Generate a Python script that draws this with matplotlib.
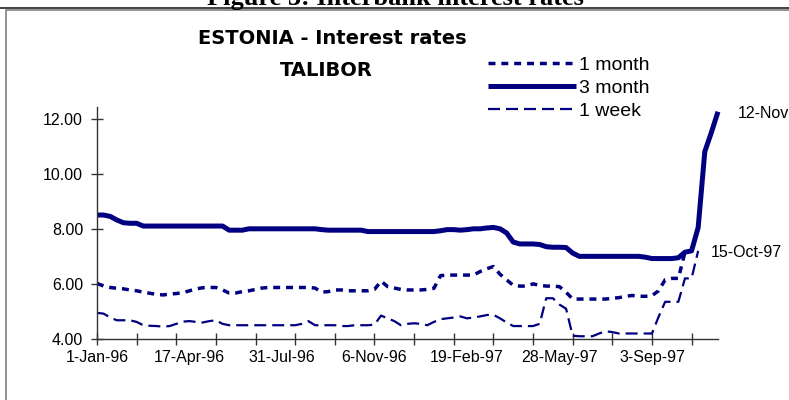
import matplotlib
matplotlib.use('Agg')
from matplotlib import pyplot as plt
from matplotlib.patches import Rectangle
from matplotlib.lines import Line2D

# weekly observations, category axis (index 0 = 1-Jan-96, 94 = 12-Nov-97)
three_month = [8.50, 8.50, 8.45, 8.32, 8.22, 8.20, 8.20, 8.10, 8.10, 8.10,
               8.10, 8.10, 8.10, 8.10, 8.10, 8.10, 8.10, 8.10, 8.10, 8.10,
               7.95, 7.95, 7.95, 8.00, 8.00, 8.00, 8.00, 8.00, 8.00, 8.00,
               8.00, 8.00, 8.00, 8.00, 7.97, 7.95, 7.95, 7.95, 7.95, 7.95,
               7.95, 7.90, 7.90, 7.90, 7.90, 7.90, 7.90, 7.90, 7.90, 7.90,
               7.90, 7.90, 7.93, 7.97, 7.97, 7.95, 7.97, 8.00, 8.00, 8.03,
               8.05, 8.00, 7.85, 7.52, 7.45, 7.45, 7.45, 7.43, 7.35, 7.33,
               7.33, 7.32, 7.12, 7.00, 7.00, 7.00, 7.00, 7.00, 7.00, 7.00,
               7.00, 7.00, 7.00, 6.97, 6.92, 6.92, 6.92, 6.92, 6.95, 7.15,
               7.20, 8.05, 10.80, 11.50, 12.25]

one_month = [6.02, 5.92, 5.87, 5.84, 5.82, 5.78, 5.75, 5.70, 5.66, 5.62,
             5.60, 5.63, 5.65, 5.68, 5.75, 5.82, 5.86, 5.87, 5.87, 5.78,
             5.67, 5.67, 5.72, 5.75, 5.80, 5.85, 5.87, 5.87, 5.87, 5.87,
             5.87, 5.87, 5.87, 5.85, 5.70, 5.72, 5.78, 5.78, 5.75, 5.75,
             5.75, 5.75, 5.80, 6.10, 5.90, 5.85, 5.80, 5.78, 5.78, 5.78,
             5.80, 5.84, 6.30, 6.32, 6.32, 6.32, 6.32, 6.32, 6.45, 6.55,
             6.63, 6.35, 6.15, 5.95, 5.92, 5.92, 6.00, 5.95, 5.92, 5.92,
             5.90, 5.70, 5.45, 5.45, 5.45, 5.45, 5.45, 5.45, 5.48, 5.50,
             5.55, 5.58, 5.55, 5.55, 5.57, 5.75, 6.15, 6.20, 6.20, 7.15,
             7.20]

one_week = [4.95, 4.92, 4.78, 4.68, 4.68, 4.68, 4.62, 4.50, 4.48, 4.47,
            4.45, 4.47, 4.55, 4.63, 4.65, 4.62, 4.60, 4.65, 4.68, 4.55,
            4.50, 4.50, 4.50, 4.50, 4.50, 4.50, 4.50, 4.50, 4.50, 4.50,
            4.50, 4.55, 4.65, 4.50, 4.50, 4.50, 4.50, 4.47, 4.47, 4.50,
            4.50, 4.50, 4.52, 4.85, 4.75, 4.65, 4.50, 4.55, 4.57, 4.55,
            4.50, 4.62, 4.72, 4.75, 4.78, 4.82, 4.75, 4.78, 4.82, 4.87,
            4.88, 4.75, 4.60, 4.47, 4.47, 4.47, 4.47, 4.55, 5.48, 5.48,
            5.25, 5.10, 4.12, 4.10, 4.10, 4.10, 4.20, 4.28, 4.25, 4.20,
            4.20, 4.20, 4.20, 4.20, 4.20, 4.80, 5.35, 5.35, 5.35, 6.20,
            6.20, 7.20]

date_labels = ['1-Jan-96', '17-Apr-96', '31-Jul-96', '6-Nov-96',
               '19-Feb-97', '28-May-97', '3-Sep-97']
label_idx = [0, 14, 28, 42, 56, 70, 84]
tick_idx = list(range(0, 91, 6))
yticks = [4, 6, 8, 10, 12]

navy = '#000080'
W, H = 789, 400

fig = plt.figure(figsize=(W / 100, H / 100), dpi=100)

# page caption (cut off at the top) and frame
fig.text(395 / W, 1 - 5 / H, 'Figure 3: Interbank interest rates', ha='center',
         va='baseline', fontsize=19, fontweight='bold', family='Liberation Serif')
fig.add_artist(Line2D([0, 1], [1 - 8 / H, 1 - 8 / H], color='#222222', lw=1.2,
                      transform=fig.transFigure))
fig.add_artist(Rectangle((6 / W, -0.1), 1.1, 1.1 - 10 / H, transform=fig.transFigure,
                         fill=False, edgecolor='#808080', lw=1.2))

ax = fig.add_axes([97 / W, 1 - 339 / H, (718 - 97) / W, (339 - 107) / H])

x3 = list(range(len(three_month)))
x1 = list(range(len(one_month)))
xw = list(range(len(one_week)))

l1, = ax.plot(x1, one_month, color=navy, lw=2.5, dashes=(2.0, 1.7), clip_on=False)
l3, = ax.plot(x3, three_month, color=navy, lw=3.6, solid_capstyle='butt', clip_on=False)
lw_, = ax.plot(xw, one_week, color=navy, lw=1.6, dashes=(5.4, 2.7), clip_on=False)

ax.set_xlim(0, 94)
ax.set_ylim(4, 4 + 232 / 27.55)
ax.set_yticks(yticks)
ax.set_yticklabels(['%.2f' % v for v in yticks])

# labels every 14 weeks (major, no marks), tick marks every 6 weeks (minor)
ax.xaxis.remove_overlapping_locs = False
ax.set_xticks(label_idx)
ax.set_xticklabels(date_labels)
ax.set_xticks(tick_idx, minor=True)

for s in ['top', 'right']:
    ax.spines[s].set_visible(False)
for s in ['left', 'bottom']:
    ax.spines[s].set_color('#333333')
    ax.spines[s].set_linewidth(1.0)

ax.tick_params(axis='y', which='major', direction='inout', length=8, width=1,
               color='#333333', pad=6, labelsize=11.5)
ax.tick_params(axis='x', which='major', length=0, pad=8, labelsize=11.5)
ax.tick_params(axis='x', which='minor', direction='inout', length=8, width=1,
               color='#333333')
for t in ax.get_yticklabels() + ax.get_xticklabels():
    t.set_family('Liberation Sans')

# data labels
ax.annotate('15-Oct-97', xy=(90, one_month[90]), xytext=(14, -1.5),
            textcoords='offset points', va='center', ha='left', fontsize=11.5,
            family='Liberation Sans', annotation_clip=False)
ax.annotate('12-Nov-97', xy=(94, three_month[94]), xytext=(14, -1),
            textcoords='offset points', va='center', ha='left', fontsize=11.5,
            family='Liberation Sans', annotation_clip=False)

# chart title
fig.text(332 / W, 1 - 39 / H, 'ESTONIA - Interest rates', ha='center', va='center',
         fontsize=14, fontweight='bold', family='DejaVu Sans')
fig.text(326 / W, 1 - 70 / H, 'TALIBOR', ha='center', va='center',
         fontsize=14, fontweight='bold', family='DejaVu Sans')

leg = fig.legend([l1, l3, lw_], ['1 month', '3 month', '1 week'],
                 loc='upper left', bbox_to_anchor=(488 / W, 1 - 56 / H),
                 frameon=False, borderpad=0, borderaxespad=0, handlelength=4.5,
                 handletextpad=0.2, labelspacing=0.28,
                 prop={'family': 'Liberation Sans', 'size': 14})

fig.savefig('out.png', dpi=100)
